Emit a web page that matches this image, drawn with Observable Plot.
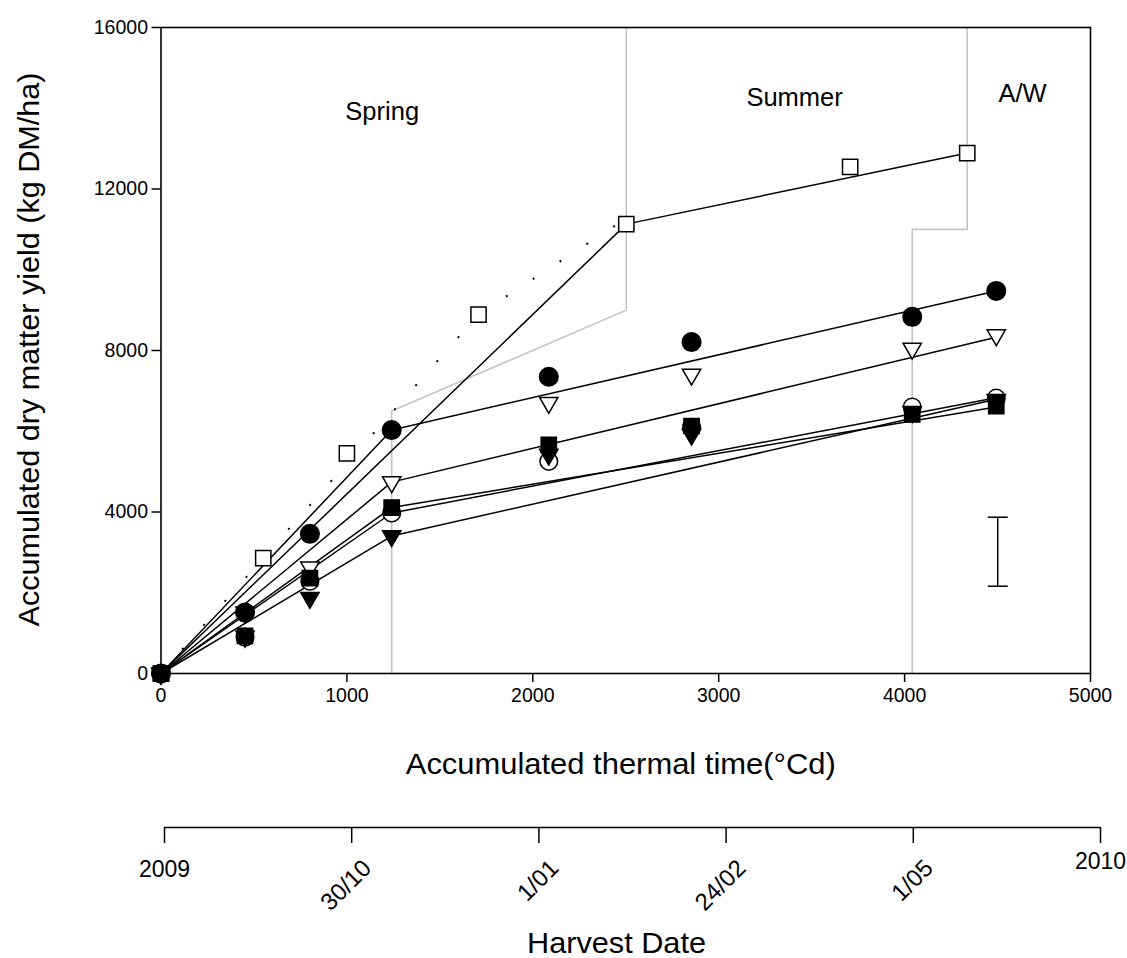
<!DOCTYPE html>
<html>
<head>
<meta charset="utf-8">
<script src="https://cdn.jsdelivr.net/npm/d3@7"></script>
<script src="https://cdn.jsdelivr.net/npm/@observablehq/plot@0.6"></script>
<style>
  html, body { margin: 0; padding: 0; background: #fff; }
  #chart { width: 1127px; }
  #chart svg { display: block; }
</style>
</head>
<body>
<div id="chart"></div>
<script>
// ---------- data ----------
const harvestTT      = [0, 452, 801, 1241, 2086, 2854, 4041, 4493];
const yFilledCircle  = [0, 1510, 3460, 6030, 7350, 8210, 8835, 9475];
const yOpenTriDown   = [0, 1515, 2630, 4740, 6705, 7405, 8050, 8380];
const yOpenCircle    = [0, 900, 2285, 3975, 5255, 6100, 6600, 6820];
const yFilledSquare  = [0, 930, 2365, 4110, 5660, 6130, 6415, 6625];
const yFilledTriDown = [0, 915, 1875, 3405, 5425, 5920, 6480, 6780];

const squareTT       = [0, 550, 1000, 1708, 2503, 3707, 4337];
const yOpenSquare    = [0, 2860, 5450, 8890, 11130, 12550, 12890];

// fitted broken-stick lines
const fitTT            = [0, 1241, 4493];
const fitFilledCircle  = [0, 6030, 9475];
const fitOpenTriDown   = [0, 4740, 8330];
const fitFilledSquare  = [0, 4110, 6600];
const fitOpenCircle    = [0, 3975, 6830];
const fitFilledTriDown = [0, 3405, 6790];
const squareFitTT      = [0, 2503, 4337];
const fitOpenSquare    = [0, 11130, 12890];

// dotted curve
const dottedTT    = [0, 1710, 2455];
const dottedYield = [0, 8900, 11130];

// season boundaries
const springEdgeTT = [1241, 1241, 2503, 2503];
const springEdgeY  = [0, 6500, 9000, 16000];
const summerEdgeTT = [4041, 4041, 4337, 4337];
const summerEdgeY  = [0, 11000, 11000, 16000];

const seasonNames = ["Spring", "Summer", "A/W"];
const seasonTT    = [1190, 3408, 4634];
const seasonYield = [13714, 14044, 14151];

// error bar
const errTT   = [4501];
const errLow  = [2162];
const errHigh = [3871];

const xTicks = [0, 1000, 2000, 3000, 4000, 5000];
const yTicks = [0, 4000, 8000, 12000, 16000];
const dateTickPos    = [0, 1, 2, 3, 4, 5];
const dateTickLabels = ["2009", "30/10", "1/01", "24/02", "1/05", "2010"];

const xTitle = "Accumulated thermal time(°Cd)";
const yTitle = "Accumulated dry matter yield (kg DM/ha)";
const dateTitle = "Harvest Date";

// ---------- helpers ----------
const rows = (xs, ys, s) => xs.map((x, i) => ({x, y: ys[i], s}));
const triangleDown = {
  draw(context, size) {
    const h = Math.sqrt(size / (Math.sqrt(3) * 3));
    context.moveTo(0, 2 * h);
    context.lineTo(-Math.sqrt(3) * h, -h);
    context.lineTo(Math.sqrt(3) * h, -h);
    context.closePath();
  }
};
const hline = {
  draw(context, size) {
    const w = Math.sqrt(size);
    context.moveTo(-w / 2, 0);
    context.lineTo(w / 2, 0);
  }
};
const FONT = '"Liberation Sans", Arial, Helvetica, sans-serif';

const fitRows = [
  ...rows(fitTT, fitFilledCircle, "fc"),
  ...rows(fitTT, fitOpenTriDown, "ot"),
  ...rows(fitTT, fitFilledSquare, "fs"),
  ...rows(fitTT, fitOpenCircle, "oc"),
  ...rows(fitTT, fitFilledTriDown, "ft"),
  ...rows(squareFitTT, fitOpenSquare, "os")
];

const dotOpts = {x: "x", y: "y", stroke: "black", strokeWidth: 1.5};

const main = Plot.plot({
  width: 1127,
  height: 780,
  marginLeft: 160.5,
  marginRight: 37,
  marginTop: 27,
  marginBottom: 107,
  x: {domain: [0, 5000]},
  y: {domain: [0, 16000]},
  style: {fontFamily: FONT, fontSize: "19.5px", color: "black", background: "white", overflow: "visible"},
  marks: [
    Plot.line(rows(springEdgeTT, springEdgeY), {x: "x", y: "y", stroke: "#c3c3c3", strokeWidth: 1.6}),
    Plot.line(rows(summerEdgeTT, summerEdgeY), {x: "x", y: "y", stroke: "#c3c3c3", strokeWidth: 1.6}),
    Plot.line(rows(dottedTT, dottedYield), {x: "x", y: "y", stroke: "black", strokeWidth: 2, strokeDasharray: "2,30", strokeLinecap: "butt"}),
    Plot.line(fitRows, {x: "x", y: "y", z: "s", stroke: "black", strokeWidth: 1.5}),
    Plot.dot(rows(squareTT, yOpenSquare), {...dotOpts, symbol: "square", r: 8.6, fill: "white"}),
    Plot.dot(rows(harvestTT, yOpenTriDown), {...dotOpts, symbol: triangleDown, r: 6.8, fill: "white"}),
    Plot.dot(rows(harvestTT, yFilledCircle), {...dotOpts, symbol: "circle", r: 9.3, fill: "black"}),
    Plot.dot(rows(harvestTT, yOpenCircle), {...dotOpts, symbol: "circle", r: 8.8, fill: "white"}),
    Plot.dot(rows(harvestTT, yFilledSquare), {...dotOpts, symbol: "square", r: 8.6, fill: "black"}),
    Plot.dot(rows(harvestTT, yFilledTriDown), {...dotOpts, symbol: triangleDown, r: 6.8, fill: "black"}),
    Plot.ruleX(errTT, {x: d => d, y1: (d, i) => errLow[i], y2: (d, i) => errHigh[i], stroke: "black", strokeWidth: 1.5}),
    Plot.dot([...errLow, ...errHigh], {x: () => errTT[0], y: d => d, symbol: hline, r: 11.3, stroke: "black", strokeWidth: 1.5, fill: "none"}),
    Plot.text(seasonNames, {x: (d, i) => seasonTT[i], y: (d, i) => seasonYield[i], text: d => d, lineAnchor: "bottom", fontSize: 25.5}),
    Plot.frame({stroke: "black", strokeWidth: 1.6}),
    Plot.axisX({ticks: xTicks, tickSize: 9, tickPadding: 6, tickFormat: d3.format("d"), label: null, strokeWidth: 1.5}),
    Plot.axisY({ticks: yTicks, tickSize: 9, tickPadding: 4, tickFormat: d3.format("d"), label: null, strokeWidth: 1.5}),
    Plot.text([xTitle], {frameAnchor: "bottom", dx: -5, dy: 100, lineAnchor: "bottom", fontSize: 30, text: d => d}),
    Plot.text([yTitle], {frameAnchor: "left", rotate: -90, textAnchor: "middle", dx: -122.5, dy: -1, lineAnchor: "bottom", fontSize: 30, text: d => d})
  ]
});

const dateAxis = Plot.plot({
  width: 1127,
  height: 178,
  marginLeft: 164,
  marginRight: 27,
  marginTop: 47,
  marginBottom: 115,
  x: {domain: [0, 5], axis: null},
  y: {domain: [0, 1], axis: null},
  style: {fontFamily: FONT, fontSize: "23px", color: "black", background: "white", overflow: "visible"},
  marks: [
    Plot.ruleY([1], {stroke: "black", strokeWidth: 1.6}),
    Plot.tickX(dateTickPos, {x: d => d, stroke: "black", strokeWidth: 1.5}),
    Plot.text([dateTickPos[0]], {x: d => d, text: d => dateTickLabels[d], frameAnchor: "bottom", lineAnchor: "top", dy: 17}),
    Plot.text([dateTickPos[5]], {x: d => d, text: d => dateTickLabels[d], frameAnchor: "bottom", lineAnchor: "top", dy: 9}),
    Plot.text(dateTickPos.slice(1, 5), {x: d => d, text: d => dateTickLabels[d], frameAnchor: "bottom", rotate: -45, textAnchor: "end", lineAnchor: "top", dx: 9, dy: 14, fontSize: 24}),
    Plot.text([dateTitle], {frameAnchor: "bottom", dx: -16, dy: 109, lineAnchor: "bottom", fontSize: 30, text: d => d})
  ]
});

const chart = document.getElementById("chart");
chart.append(main, dateAxis);

// stretch axis titles to the reference widths
const stretch = (svg, txt, len) => {
  d3.select(svg).selectAll("text").filter(function () { return this.textContent === txt; })
    .attr("textLength", len).attr("lengthAdjust", "spacingAndGlyphs");
};
stretch(main, xTitle, 430);
stretch(main, yTitle, 554);
stretch(dateAxis, dateTitle, 179);
</script>
</body>
</html>
